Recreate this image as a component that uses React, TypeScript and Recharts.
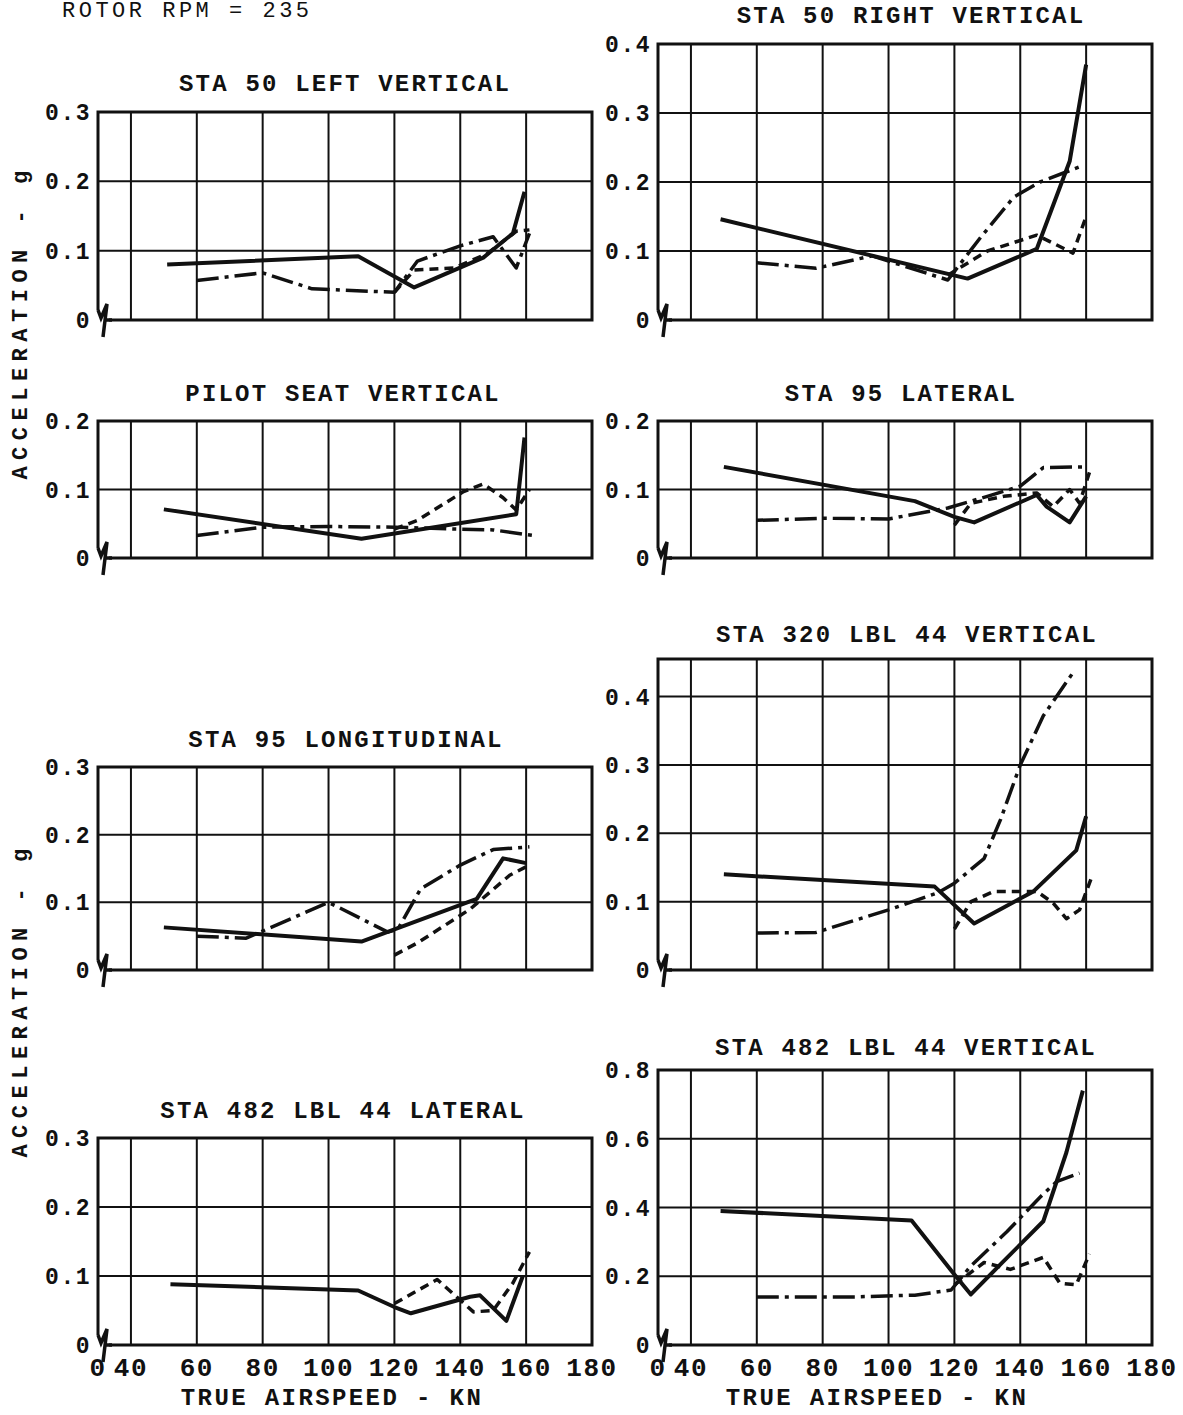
import React from 'react';
import { LineChart, Line, XAxis, YAxis, CartesianGrid, ReferenceArea, ReferenceDot } from 'recharts';

const FONT = '"Liberation Mono", "DejaVu Sans Mono", monospace';
const INK = '#111';

// true airspeed, kn — the left edge is a broken axis that stands for 0
const X_MIN = 30;
const X_MAX = 180;
const xTicks = [30, 40, 60, 80, 100, 120, 140, 160, 180];

// STA 50 LEFT VERTICAL
const sta50LeftSolid = [[51, 0.08], [109, 0.092], [126, 0.047], [147, 0.09], [156, 0.125], [159.5, 0.185]];
const sta50LeftDashed = [[120, 0.04], [126, 0.072], [138, 0.075], [148, 0.095], [157, 0.128], [161, 0.13]];
const sta50LeftChain = [[60, 0.057], [80, 0.068], [95, 0.045], [120, 0.04], [127, 0.085], [140, 0.107], [150, 0.12], [157, 0.075], [161, 0.125]];

// STA 50 RIGHT VERTICAL
const sta50RightSolid = [[49, 0.146], [124, 0.06], [145, 0.103], [155, 0.23], [160, 0.37]];
const sta50RightDashed = [[118, 0.065], [130, 0.1], [145, 0.123], [156, 0.097], [160, 0.15]];
const sta50RightChain = [[60, 0.083], [78, 0.075], [95, 0.093], [118, 0.058], [128, 0.12], [138, 0.178], [146, 0.2], [158, 0.222]];

// PILOT SEAT VERTICAL
const pilotSolid = [[50, 0.071], [110, 0.028], [157, 0.064], [159.5, 0.176]];
const pilotDashed = [[120, 0.042], [127, 0.055], [141, 0.097], [147, 0.108], [153, 0.088], [157, 0.07], [161, 0.1]];
const pilotChain = [[60, 0.033], [80, 0.045], [100, 0.046], [120, 0.045], [140, 0.042], [150, 0.041], [162, 0.033]];

// STA 95 LATERAL
const sta95LatSolid = [[50, 0.133], [108, 0.083], [120, 0.06], [126, 0.052], [145, 0.092], [148, 0.075], [155, 0.052], [160, 0.09]];
const sta95LatDashed = [[120, 0.048], [125, 0.08], [135, 0.09], [145, 0.095], [150, 0.075], [155, 0.1], [158, 0.08], [161, 0.125]];
const sta95LatChain = [[60, 0.055], [80, 0.058], [100, 0.057], [118, 0.073], [130, 0.09], [140, 0.105], [147, 0.132], [159, 0.133]];

// STA 95 LONGITUDINAL
const sta95LongSolid = [[50, 0.063], [110, 0.042], [120, 0.06], [145, 0.105], [153, 0.165], [160, 0.158]];
const sta95LongDashed = [[120, 0.022], [127, 0.04], [143, 0.09], [155, 0.14], [161, 0.155]];
const sta95LongChain = [[60, 0.05], [75, 0.047], [100, 0.1], [118, 0.056], [121, 0.06], [128, 0.12], [140, 0.155], [150, 0.178], [161, 0.182]];

// STA 320 LBL 44 VERTICAL
const sta320Solid = [[50, 0.14], [114, 0.122], [126, 0.068], [144, 0.115], [157, 0.175], [160, 0.225]];
const sta320Dashed = [[120, 0.06], [125, 0.1], [132, 0.115], [145, 0.115], [150, 0.098], [154, 0.075], [158, 0.088], [162, 0.14]];
const sta320Chain = [[60, 0.054], [78, 0.055], [100, 0.088], [115, 0.113], [120, 0.127], [129, 0.163], [134, 0.22], [140, 0.3], [147, 0.372], [156, 0.435]];

// STA 482 LBL 44 LATERAL
const sta482LatSolid = [[52, 0.088], [109, 0.079], [120, 0.055], [125, 0.046], [143, 0.07], [146, 0.072], [154, 0.035], [159, 0.1]];
const sta482LatDashed = [[120, 0.06], [133, 0.095], [144, 0.048], [150, 0.05], [156, 0.09], [161, 0.135]];

// STA 482 LBL 44 VERTICAL
const sta482VertSolid = [[49, 0.39], [107, 0.362], [120, 0.205], [125, 0.147], [133, 0.225], [147, 0.36], [154, 0.56], [159, 0.74]];
const sta482VertDashed = [[120, 0.175], [129, 0.24], [137, 0.22], [147, 0.255], [152, 0.18], [157, 0.175], [161, 0.265]];
const sta482VertChain = [[60, 0.14], [90, 0.14], [108, 0.145], [119, 0.16], [125, 0.23], [136, 0.33], [146, 0.43], [151, 0.475], [158, 0.5]];

const yTicks3 = [0, 0.1, 0.2, 0.3];
const yTicks2 = [0, 0.1, 0.2];
const yTicks4 = [0, 0.1, 0.2, 0.3, 0.4];
const yTicks8 = [0, 0.2, 0.4, 0.6, 0.8];

const LINE_STYLE: Record<string, { strokeWidth: number; strokeDasharray?: string }> = {
  solid: { strokeWidth: 4 },
  dashed: { strokeWidth: 3.5, strokeDasharray: '9 6' },
  chain: { strokeWidth: 3.5, strokeDasharray: '22 6 4 6' },
};

const toPoints = (pairs: number[][]) => pairs.map(([x, y]) => ({ x, y }));

// layout of each panel on the page (plot box edges in px)
const LEFT_COL = { colLeft: 0, plotLeft: 98, plotRight: 592 };
const RIGHT_COL = { colLeft: 598, plotLeft: 658, plotRight: 1152 };

const panels = [
  { title: 'STA 50 LEFT VERTICAL', titleX: 345, titleY: 85, col: LEFT_COL, top: 112, bottom: 320, yMax: 0.3, yTicks: yTicks3,
    series: { solid: sta50LeftSolid, dashed: sta50LeftDashed, chain: sta50LeftChain } },
  { title: 'STA 50 RIGHT VERTICAL', titleX: 911, titleY: 17, col: RIGHT_COL, top: 44, bottom: 320, yMax: 0.4, yTicks: yTicks4,
    series: { solid: sta50RightSolid, dashed: sta50RightDashed, chain: sta50RightChain } },
  { title: 'PILOT SEAT VERTICAL', titleX: 343, titleY: 395, col: LEFT_COL, top: 421, bottom: 558, yMax: 0.2, yTicks: yTicks2,
    series: { solid: pilotSolid, dashed: pilotDashed, chain: pilotChain } },
  { title: 'STA 95 LATERAL', titleX: 901, titleY: 395, col: RIGHT_COL, top: 421, bottom: 558, yMax: 0.2, yTicks: yTicks2,
    series: { solid: sta95LatSolid, dashed: sta95LatDashed, chain: sta95LatChain } },
  { title: 'STA 95 LONGITUDINAL', titleX: 346, titleY: 741, col: LEFT_COL, top: 767, bottom: 970, yMax: 0.3, yTicks: yTicks3,
    series: { solid: sta95LongSolid, dashed: sta95LongDashed, chain: sta95LongChain } },
  { title: 'STA 320 LBL 44 VERTICAL', titleX: 907, titleY: 636, col: RIGHT_COL, top: 659, bottom: 970, yMax: 0.455, yTicks: yTicks4,
    series: { solid: sta320Solid, dashed: sta320Dashed, chain: sta320Chain } },
  { title: 'STA 482 LBL 44 LATERAL', titleX: 343, titleY: 1112, col: LEFT_COL, top: 1138, bottom: 1345, yMax: 0.3, yTicks: yTicks3, xLabels: true,
    series: { solid: sta482LatSolid, dashed: sta482LatDashed } },
  { title: 'STA 482 LBL 44 VERTICAL', titleX: 906, titleY: 1049, col: RIGHT_COL, top: 1070, bottom: 1345, yMax: 0.8, yTicks: yTicks8, xLabels: true,
    series: { solid: sta482VertSolid, dashed: sta482VertDashed, chain: sta482VertChain } },
];

const Y_AXIS_W = 60;
const PAD_TOP = 12;
const PAD_RIGHT = 30;

// zig-zag break mark at the bottom-left corner of each box
const BreakMark = (props: any) => {
  const { cx, cy } = props;
  return (
    <g>
      <rect x={cx - 3} y={cy - 10} width={14} height={13} fill="#fff" />
      <path
        d={`M${cx},${cy - 10} L${cx + 3},${cy - 2} L${cx + 9},${cy - 16} L${cx + 5},${cy + 17} M${cx + 8},${cy} L${cx + 14},${cy}`}
        fill="none"
        stroke={INK}
        strokeWidth={3.5}
        strokeLinejoin="miter"
      />
    </g>
  );
};

// keeps the x ticks (and so the vertical grid) while drawing no label
const NoTick = () => <g />;

const tickStyle = { fill: INK, fontFamily: FONT, fontWeight: 700 };

const Panel = ({ p }: { p: (typeof panels)[number] }) => {
  const { col } = p;
  const bottomExtra = p.xLabels ? 44 : 22;
  const width = col.plotRight + PAD_RIGHT - col.colLeft;
  const height = p.bottom - p.top + PAD_TOP + bottomExtra;
  return (
    <div style={{ position: 'absolute', left: col.colLeft, top: p.top - PAD_TOP }}>
      <LineChart
        width={width}
        height={height}
        margin={{ top: PAD_TOP, right: PAD_RIGHT, left: col.plotLeft - col.colLeft - Y_AXIS_W, bottom: p.xLabels ? 0 : bottomExtra - 1 }}
      >
        <CartesianGrid stroke={INK} strokeWidth={2} />
        <XAxis
          type="number"
          dataKey="x"
          domain={[X_MIN, X_MAX]}
          ticks={xTicks}
          interval={0}
          allowDataOverflow
          axisLine={false}
          tickLine={false}
          tickSize={0}
          tickMargin={13}
          height={p.xLabels ? 44 : 1}
          tick={p.xLabels ? { ...tickStyle, fontSize: 26, letterSpacing: 1.5 } : NoTick}
          tickFormatter={(v: number) => (v === X_MIN ? '0' : String(v))}
        />
        <YAxis
          type="number"
          domain={[0, p.yMax]}
          ticks={p.yTicks}
          interval={0}
          width={Y_AXIS_W}
          axisLine={false}
          tickLine={false}
          tickSize={0}
          tickMargin={7}
          tick={{ ...tickStyle, fontSize: 23, letterSpacing: 1.5 }}
          tickFormatter={(v: number) => (v === 0 ? '0' : v.toFixed(1))}
        />
        <ReferenceArea x1={X_MIN} x2={X_MAX} y1={0} y2={p.yMax} fill="none" stroke={INK} strokeWidth={3} ifOverflow="visible" />
        <ReferenceDot x={X_MIN} y={0} ifOverflow="visible" shape={BreakMark} />
        {Object.entries(p.series).map(([style, pairs]) => (
          <Line
            key={style}
            data={toPoints(pairs as number[][])}
            dataKey="y"
            type="linear"
            stroke={INK}
            fill="none"
            dot={false}
            activeDot={false}
            strokeLinejoin="round"
            isAnimationActive={false}
            {...LINE_STYLE[style]}
          />
        ))}
      </LineChart>
    </div>
  );
};

const textBase: React.CSSProperties = {
  position: 'absolute',
  fontFamily: FONT,
  fontWeight: 700,
  color: INK,
  whiteSpace: 'nowrap',
  lineHeight: 1.1,
};

export default function App() {
  return (
    <div style={{ position: 'absolute', left: 0, top: 0, width: 1183, height: 1415, background: '#fff', overflow: 'hidden' }}>
      <div style={{ ...textBase, left: 62, top: 0, fontSize: 22, letterSpacing: 3.5, fontWeight: 400 }}>ROTOR RPM = 235</div>
      {panels.map((p) => (
        <div
          key={p.title}
          style={{ ...textBase, left: p.titleX, top: p.titleY, transform: 'translate(-50%, -50%)', fontSize: 24, letterSpacing: 2.2 }}
        >
          {p.title}
        </div>
      ))}
      {[322, 1000].map((cy) => (
        <div
          key={cy}
          style={{ ...textBase, left: 22, top: cy, transform: 'translate(-50%, -50%) rotate(-90deg)', fontSize: 22, letterSpacing: 6.5 }}
        >
          ACCELERATION - g
        </div>
      ))}
      {[332, 877].map((cx) => (
        <div key={cx} style={{ ...textBase, left: cx, top: 1399, transform: 'translate(-50%, -50%)', fontSize: 24, letterSpacing: 2.4 }}>
          TRUE AIRSPEED - KN
        </div>
      ))}
      {panels.map((p) => (
        <Panel key={p.title} p={p} />
      ))}
    </div>
  );
}
